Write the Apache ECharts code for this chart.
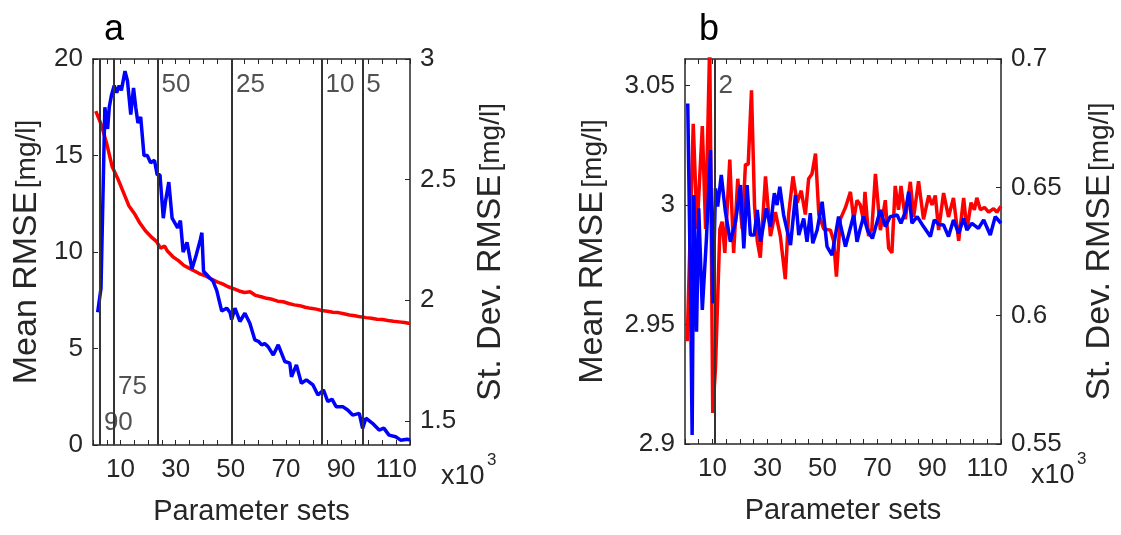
<!DOCTYPE html>
<html>
<head>
<meta charset="utf-8">
<script src="https://cdn.jsdelivr.net/npm/echarts@6/dist/echarts.min.js"></script>
<style>
  html, body { margin: 0; padding: 0; background: #fff; }
  #main { width: 1121px; height: 535px; }
</style>
</head>
<body>
<div id="main"></div>
<script>
// panel a: mean RMSE (left axis, red) and st. dev. RMSE (right axis, blue), x in thousands
var aMean = [[1,17.3],[3,16.6],[5,15.6],[7,14.4],[9,13.8],[11,13.1],[13,12.4],[15,12.0],[17,11.5],[19,11.1],
  [21,10.8],[23,10.55],[24.5,10.2],[26,10.3],[27,10.05],[29,9.75],[31,9.55],[33,9.3],[35,9.15],[37,9.0],
  [39,8.85],[41,8.75],[43,8.6],[45,8.45],[47,8.35],[49,8.2],[51,8.1],[53,7.98],[55,7.9],[57,7.94],
  [59,7.75],[61,7.68],[63,7.6],[65,7.55],[67,7.45],[69,7.42],[71,7.33],[73,7.26],[75,7.22],[77,7.14],
  [79,7.08],[81,7.04],[83,6.97],[85,6.93],[87,6.88],[89,6.86],[91,6.8],[93,6.74],[95,6.7],[97,6.64],
  [99,6.6],[101,6.57],[103,6.52],[105,6.5],[107,6.45],[109,6.41],[111,6.38],[113,6.35],[115,6.3]];
var aStd = [[1.7,1.95],[2.9,2.05],[4.3,2.80],[5.3,2.71],[5.9,2.80],[6.7,2.85],[7.7,2.89],[8.6,2.86],[9.5,2.89],
  [10.3,2.87],[11.6,2.95],[12.5,2.91],[13.7,2.77],[14.7,2.88],[15.5,2.80],[16.3,2.735],[17.3,2.76],[18.5,2.60],
  [19.7,2.60],[20.9,2.57],[22.3,2.58],[23.3,2.52],[24.3,2.52],[25.5,2.34],[26.3,2.41],[27.5,2.49],[28.7,2.34],
  [30.7,2.30],[31.7,2.33],[32.7,2.20],[34.1,2.24],[35.9,2.13],[37.5,2.19],[38.9,2.25],[39.5,2.28],[40.1,2.12],
  [42.5,2.09],[43.5,2.08],[44.9,2.04],[46.7,1.955],[47.3,1.96],[48.5,1.967],[49.7,1.95],[50.3,1.92],[51.5,1.967],
  [53.3,1.912],[55.1,1.946],[56.9,1.905],[58.7,1.836],[60,1.83],[61.2,1.815],[62.3,1.82],[63.5,1.808],[65.4,1.773],
  [67.2,1.815],[69.6,1.746],[71.4,1.739],[72,1.683],[73.8,1.732],[75.6,1.656],[77.4,1.67],[79.8,1.649],[81.6,1.607],
  [83.6,1.628],[85.2,1.58],[86.7,1.59],[88.2,1.559],[90.6,1.559],[92.4,1.545],[94.2,1.524],[96.6,1.531],[97.8,1.469],
  [99,1.511],[101.4,1.49],[103.8,1.462],[105.5,1.47],[107.4,1.441],[109.8,1.434],[111.6,1.42],[114,1.424],[115,1.42]];
var aCuts = [2.5, 7.6, 23.4, 50.4, 82.9, 97.7];
var aCutLabels = ['90', '75', '50', '25', '10', '5'];
var aCutLabelY = [1.15, 3.0, 18.65, 18.65, 18.65, 18.65];

// panel b
var bMean = [[0.8,2.943],[3.0,3.034],[4.4,2.990],[6.3,3.033],[7.5,2.990],[9.0,3.068],[10.1,2.913],[11.1,2.932],
  [12.7,2.990],[13.5,2.993],[14.5,2.980],[16.3,3.019],[17.7,2.980],[19.2,3.011],[20.8,2.990],[22.0,3.017],[23.0,3.017],
  [24.2,3.048],[25.3,3.0],[26.3,2.985],[27.4,2.978],[29.3,3.012],[31.1,2.987],[32.9,2.997],[34.7,2.987],[36.5,2.969],
  [37.7,2.996],[39.3,3.012],[40.8,3.001],[42.3,3.006],[43.8,2.996],[45.0,3.011],[46.2,3.013],[47.5,3.0215],[48.7,2.996],
  [50.5,2.990],[52.9,2.9895],[54.1,2.985],[55.1,2.970],[56.5,2.994],[58.4,2.999],[60.2,3.0055],[61.4,2.994],[62.6,3.002],
  [63.8,3.0],[64.9,2.994],[65.5,3.0055],[66.8,2.987],[68,2.99],[69.3,3.013],[71.1,2.9895],[72.9,3.002],[74.1,2.982],
  [75.3,2.980],[76.5,3.008],[77.7,2.998],[78.6,3.008],[80.2,2.994],[82,3.0097],[83.2,2.995],[85.0,3.010],[86.8,2.994],
  [88.7,3.004],[89.9,3.0],[91.1,3.004],[92.3,2.9895],[94.1,3.005],[95.9,2.995],[97.7,3.003],[99.6,2.985],[101.4,3.003],
  [102.6,2.9895],[104.1,3.001],[105.3,2.998],[106.2,3.003],[107.5,2.998],[109,2.999],[110.5,2.997],[112.3,2.9985],
  [113.5,2.997],[115,2.9995]];
var bStd = [[1.0,0.6827],[2.0,0.6107],[2.6,0.5535],[3.2,0.647],[4.2,0.5937],[5.0,0.6418],[6.3,0.6022],[7.8,0.63],
  [9.3,0.6645],[10.1,0.6048],[11.1,0.6496],[11.9,0.6425],[13.2,0.6548],[14.7,0.6405],[16.5,0.6288],[18.4,0.6366],
  [20.2,0.6509],[21.4,0.6262],[22.6,0.6509],[23.8,0.6314],[25.2,0.6314],[26.3,0.6412],[27.5,0.6288],[29.6,0.6418],
  [31.1,0.6347],[32.5,0.6477],[33.5,0.6431],[34.5,0.6502],[35.9,0.6392],[38.4,0.6275],[40.2,0.647],[41.4,0.6314],
  [43.2,0.6379],[44.4,0.6288],[45.6,0.6399],[46.5,0.6282],[48.1,0.6334],[49.9,0.6444],[51.7,0.6269],[53.5,0.6236],
  [55.9,0.6386],[58.4,0.6269],[61.4,0.6392],[62.6,0.6288],[63.8,0.634],[65,0.6386],[66.5,0.633],[68.2,0.6301],
  [71.1,0.6412],[72.9,0.6347],[74.7,0.6386],[77.2,0.6392],[78.6,0.636],[80.2,0.6405],[81.4,0.6483],[82.6,0.636],
  [84.5,0.6386],[86.8,0.6347],[89.3,0.6308],[90.7,0.6373],[92.4,0.6355],[94.1,0.6353],[95.9,0.6308],[97.7,0.6373],
  [99.6,0.6321],[101.4,0.6379],[102.6,0.6334],[104.4,0.636],[106.8,0.634],[108.7,0.6373],[111.1,0.6314],
  [112.9,0.6386],[115,0.636]];
var bCuts = [10.7];
var bCutLabels = ['2'];
var bCutLabelY = [3.0497];

var xLabels = [10, 30, 50, 70, 90, 110];
var aLeftTicks = [0, 5, 10, 15, 20];
var aRightTicks = [1.5, 2, 2.5, 3];
var bLeftTicks = [2.9, 2.95, 3, 3.05];
var bRightTicks = [0.55, 0.6, 0.65, 0.7];

var FONT = '"Liberation Sans", Arial, sans-serif';
var INK = '#262626';
var axisLn = { show: true, onZero: false, lineStyle: { color: INK, width: 1.5 } };
var tickIn = { show: true, inside: true, length: 5, lineStyle: { color: INK, width: 1 } };

function xAxisBottom(grid) {
    return {
        type: 'value', gridIndex: grid, min: 0, max: 115, interval: 5,
        axisLine: axisLn, axisTick: tickIn, splitLine: { show: false },
        axisLabel: {
            fontSize: 26, color: INK, fontFamily: FONT, margin: 12,
            formatter: function (v) { return xLabels.indexOf(v) >= 0 ? String(v) : ''; }
        },
        name: 'Parameter sets', nameLocation: 'middle', nameGap: 52,
        nameTextStyle: { fontSize: 29, color: INK, fontFamily: FONT }
    };
}

function xAxisTop(grid) {
    return {
        type: 'value', gridIndex: grid, position: 'top', min: 0, max: 115, interval: 5,
        axisLine: axisLn, axisTick: tickIn, splitLine: { show: false },
        axisLabel: { show: false }
    };
}

function yAxis(grid, side, min, max, ticks, name, gap) {
    return {
        type: 'value', gridIndex: grid, position: side, min: min, max: max,
        axisLine: axisLn,
        axisTick: Object.assign({}, tickIn, { customValues: ticks }),
        axisLabel: { customValues: ticks, fontSize: 26, color: INK, fontFamily: FONT, margin: 10 },
        splitLine: { show: false },
        name: '{m|' + name + '} {u|[mg/l]}', nameLocation: 'middle', nameRotate: 90, nameGap: gap,
        nameTextStyle: {
            color: INK, fontFamily: FONT,
            rich: {
                m: { fontSize: 34, color: INK, fontFamily: FONT },
                u: { fontSize: 28, color: INK, fontFamily: FONT }
            }
        }
    };
}

function curve(data, color, xi, yi, cuts) {
    var s = {
        type: 'line', data: data, xAxisIndex: xi, yAxisIndex: yi,
        showSymbol: false, clip: true, z: 3,
        lineStyle: { color: color, width: 3.5 }, itemStyle: { color: color }
    };
    if (cuts) {
        s.markLine = {
            silent: true, symbol: ['none', 'none'], label: { show: false },
            lineStyle: { color: '#333333', width: 2, type: 'solid' },
            data: cuts.map(function (v) { return { xAxis: v }; })
        };
    }
    return s;
}

function cutLabels(cuts, texts, ys, xi, yi) {
    return {
        type: 'scatter', xAxisIndex: xi, yAxisIndex: yi, symbolSize: 0, silent: true,
        data: cuts.map(function (c, i) { return { value: [c, ys[i]], name: texts[i] }; }),
        label: {
            show: true, position: 'right', distance: 4, formatter: '{b}',
            fontSize: 26, color: INK, fontFamily: FONT
        }
    };
}

var chart = echarts.init(document.getElementById('main'));
chart.setOption({
    animation: false,
    textStyle: { fontFamily: FONT },
    grid: [
        { left: 93, top: 59, width: 317, height: 386 },
        { left: 685, top: 59, width: 316, height: 385 }
    ],
    xAxis: [xAxisBottom(0), xAxisTop(0), xAxisBottom(1), xAxisTop(1)],
    yAxis: [
        Object.assign(yAxis(0, 'left', 0, 20, aLeftTicks, 'Mean RMSE', 49), { interval: 5 }),
        yAxis(0, 'right', 1.4, 3, aRightTicks, 'St. Dev. RMSE', 64),
        yAxis(1, 'left', 2.9, 3.0611, bLeftTicks, 'Mean RMSE', 75),
        yAxis(1, 'right', 0.55, 0.7, bRightTicks, 'St. Dev. RMSE', 82)
    ],
    graphic: [
        { type: 'text', left: 104, top: 12, style: { text: 'a', fontSize: 36, fill: '#000', fontFamily: FONT } },
        { type: 'text', left: 699, top: 12, style: { text: 'b', fontSize: 36, fill: '#000', fontFamily: FONT } },
        { type: 'text', left: 441, top: 463, style: { text: 'x10', fontSize: 27, fill: INK, fontFamily: FONT } },
        { type: 'text', left: 487, top: 452, style: { text: '3', fontSize: 17, fill: INK, fontFamily: FONT } },
        { type: 'text', left: 1031, top: 462, style: { text: 'x10', fontSize: 27, fill: INK, fontFamily: FONT } },
        { type: 'text', left: 1077, top: 451, style: { text: '3', fontSize: 17, fill: INK, fontFamily: FONT } }
    ],
    series: [
        curve(aMean, '#ff0000', 0, 0, aCuts),
        curve(aStd, '#0000ff', 0, 1),
        cutLabels(aCuts, aCutLabels, aCutLabelY, 0, 0),
        curve(bMean, '#ff0000', 2, 2, bCuts),
        curve(bStd, '#0000ff', 2, 3),
        cutLabels(bCuts, bCutLabels, bCutLabelY, 2, 2)
    ]
});
</script>
</body>
</html>
